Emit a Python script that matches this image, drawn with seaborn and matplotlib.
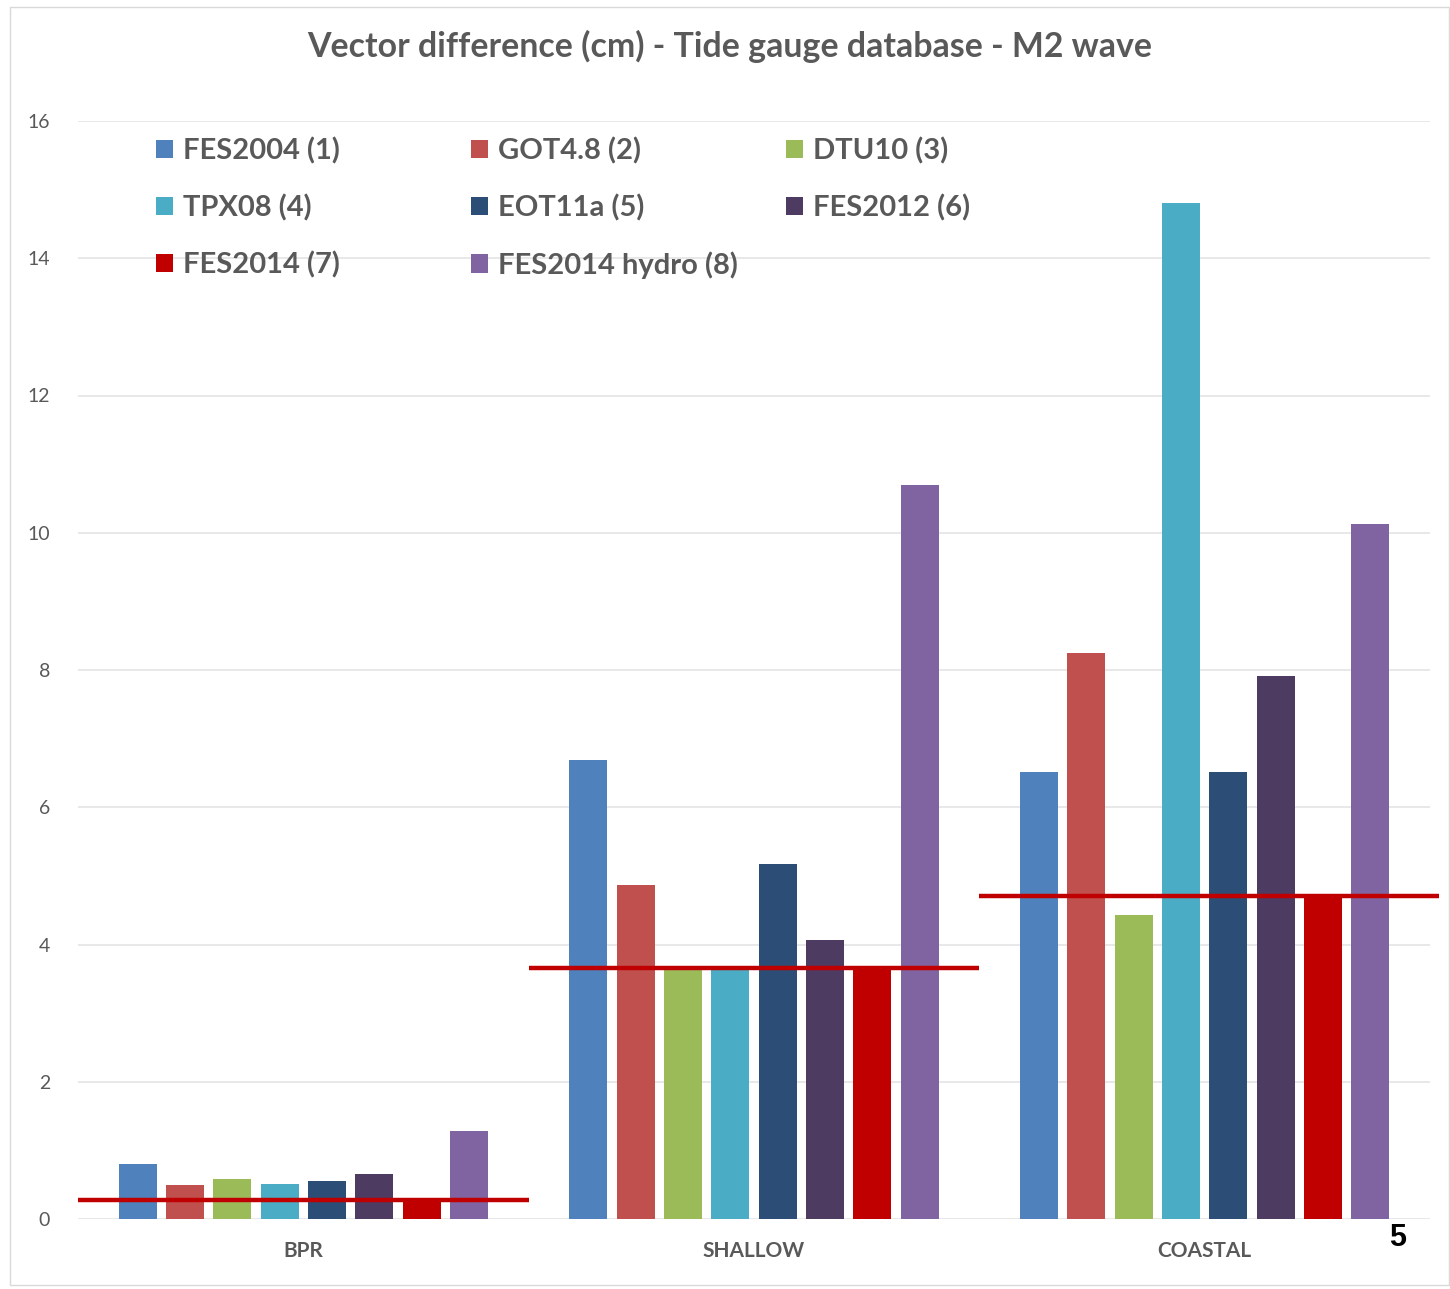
import matplotlib
matplotlib.use("Agg")
import matplotlib.pyplot as plt
from matplotlib.patches import Rectangle
import pandas as pd
import seaborn as sns

# Categories and models
regions = ["BPR", "SHALLOW", "COASTAL"]
models = ["FES2004 (1)", "GOT4.8 (2)", "DTU10 (3)", "TPX08 (4)",
          "EOT11a (5)", "FES2012 (6)", "FES2014 (7)", "FES2014 hydro (8)"]

# Vector difference (cm) per region, one list per model
fes2004 = [0.80, 6.69, 6.51]
got48 = [0.50, 4.86, 8.25]
dtu10 = [0.59, 3.64, 4.43]
tpx08 = [0.51, 3.64, 14.80]
eot11a = [0.55, 5.17, 6.51]
fes2012 = [0.65, 4.07, 7.91]
fes2014 = [0.28, 3.69, 4.69]
fes2014_hydro = [1.28, 10.70, 10.13]

# Reference level (best model) per region
reference_level = [0.28, 3.66, 4.71]

yticks = [0, 2, 4, 6, 8, 10, 12, 14, 16]

colors = ["#4F81BD", "#C0504D", "#9BBB59", "#4BACC6",
          "#2C4D75", "#4D3B62", "#C00000", "#8064A2"]

series = [fes2004, got48, dtu10, tpx08, eot11a, fes2012, fes2014, fes2014_hydro]
rows = []
for m, vals in zip(models, series):
    for r, v in zip(regions, vals):
        rows.append({"region": r, "model": m, "value": v})
df = pd.DataFrame(rows)

sns.set_theme(style="white")
plt.rcParams["font.family"] = ["Lato", "DejaVu Sans"]

W, H = 1450, 1289
fig = plt.figure(figsize=(W / 100, H / 100), dpi=100)
ax = fig.add_axes([78 / W, 70 / H, 1352 / W, 1098 / H])

sns.barplot(data=df, x="region", y="value", hue="model", order=regions,
            hue_order=models, palette=colors, width=0.84, gap=0.2,
            linewidth=0, saturation=1, ax=ax, legend=True, errorbar=None)

ax.set_xlim(-0.5, 2.5)
ax.set_ylim(0, 16)
ax.set_yticks(yticks)
ax.set_yticklabels([str(t) for t in yticks])
ax.yaxis.grid(True, color="#E6E6E6", linewidth=1.3)
ax.set_axisbelow(True)
for s in ax.spines.values():
    s.set_visible(False)
ax.tick_params(axis="y", length=0, pad=20, labelsize=14, labelcolor="#595959")
ax.tick_params(axis="x", length=0, pad=16, labelsize=15, labelcolor="#595959")
for lab in ax.get_xticklabels():
    lab.set_fontweight("bold")
ax.set_xlabel("")
ax.set_ylabel("")

# Red reference lines across each region
spans = [(-0.5, 0.5), (0.5, 1.5), (1.5, 2.52)]
for (x0, x1), lvl in zip(spans, reference_level):
    ax.plot([x0, x1], [lvl, lvl], color="#C00000", lw=3.2, clip_on=False,
            solid_capstyle="butt", zorder=10)

# Legend laid out as three fixed-width columns
handles, labels = ax.get_legend_handles_labels()
ax.get_legend().remove()
col_x = [0.058, 0.291, 0.524]
legends = []
for c, x in enumerate(col_x):
    idx = list(range(c, len(models), 3))
    leg = ax.legend([handles[i] for i in idx], [labels[i] for i in idx],
                    loc="upper left", bbox_to_anchor=(x, 0.985),
                    frameon=False, fontsize=21, handlelength=0.58,
                    handleheight=0.58, handletextpad=0.33, labelspacing=1.02,
                    borderpad=0, borderaxespad=0)
    for t in leg.get_texts():
        t.set_color("#595959")
        t.set_fontweight("bold")
    legends.append(leg)
for leg in legends[:-1]:
    ax.add_artist(leg)

fig.text(0.503, 1 - 46 / H, "Vector difference (cm) - Tide gauge database - M2 wave",
         ha="center", va="center", fontsize=24.4, fontweight="bold", color="#595959")

fig.text(1398 / W, 1 - 1238 / H, "5", ha="center", va="center", fontsize=22,
         fontweight="bold", color="black", family=["Liberation Sans", "DejaVu Sans"])

fig.patches.append(Rectangle((10 / W, 4 / H), 1439 / W, 1278 / H,
                             transform=fig.transFigure, fill=False,
                             edgecolor="#D9D9D9", linewidth=1))

fig.savefig("out.png", dpi=100, facecolor="white")
